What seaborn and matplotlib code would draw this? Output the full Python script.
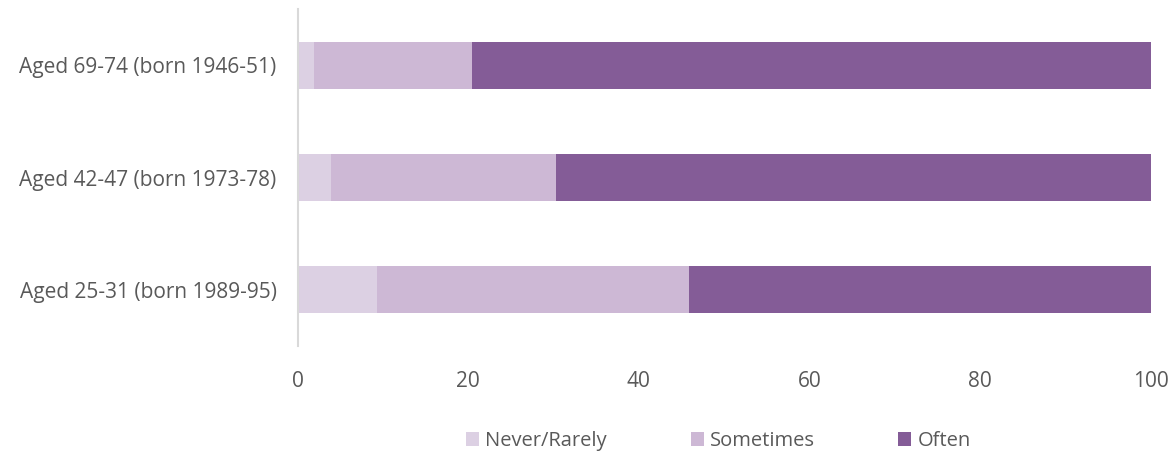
import matplotlib
matplotlib.use("Agg")
import matplotlib.pyplot as plt
from matplotlib.patches import Patch
import numpy as np
import pandas as pd
import seaborn as sns

# Survey responses by age cohort (percent)
cohorts = ["Aged 69-74 (born 1946-51)", "Aged 42-47 (born 1973-78)", "Aged 25-31 (born 1989-95)"]
never_rarely = [1.9, 3.9, 9.3]
sometimes = [18.5, 26.4, 36.6]
often = [79.6, 69.7, 54.1]
series_names = ["Never/Rarely", "Sometimes", "Often"]
colors = ["#DCD0E3", "#CDB8D5", "#845C97"]
x_ticks = [0, 20, 40, 60, 80, 100]

sns.set_theme(style="white")
plt.rcParams["font.family"] = ["Open Sans", "DejaVu Sans"]

df = pd.DataFrame({"cohort": cohorts, "never": never_rarely,
                   "sometimes": sometimes, "often": often})
df["c1"] = df["never"]
df["c2"] = df["c1"] + df["sometimes"]
df["c3"] = df["c2"] + df["often"]

fig = plt.figure(figsize=(11.76, 4.54), dpi=100)
ax = fig.add_axes([0.2530, 0.238, 0.7257, 0.742])

# Stacked bars drawn as cumulative totals, largest first
for col, color in zip(["c3", "c2", "c1"], colors[::-1]):
    sns.barplot(data=df, x=col, y="cohort", color=color, width=0.42,
                saturation=1, ax=ax, orient="h", linewidth=0)

ax.set_xlim(0, 100)
ax.set_xticks(x_ticks)
ax.set_xlabel("")
ax.set_ylabel("")
ax.tick_params(axis="both", length=0, labelsize=15, colors="#595959")
ax.tick_params(axis="x", pad=18)
ax.tick_params(axis="y", pad=15)
for side in ["top", "right", "bottom"]:
    ax.spines[side].set_visible(False)
ax.spines["left"].set_color("#D9D9D9")
ax.spines["left"].set_linewidth(1.5)
ax.grid(False)

handles = [Patch(facecolor=c, edgecolor="none", label=n) for c, n in zip(colors, series_names)]
fig.legend(handles=handles, loc="lower center", bbox_to_anchor=(0.611, -0.033),
           ncol=3, frameon=False, fontsize=14.5, handlelength=0.65, handleheight=0.65,
           handletextpad=0.3, columnspacing=4.15, labelcolor="#595959")

fig.savefig("out.png", dpi=100)
